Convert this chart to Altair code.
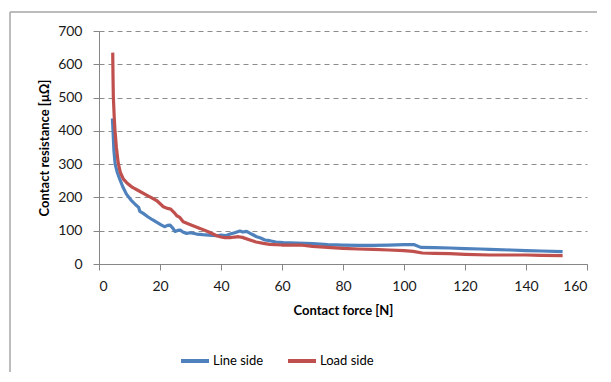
import altair as alt
import pandas as pd

# Line side (blue)
line_force = [4.4, 4.6, 4.9, 5.3, 6.0, 6.8, 7.8, 9.0, 10.5, 12.0, 13.0, 13.4, 14.5, 16.0,
              17.5, 19.0, 20.5, 21.5, 22.5, 23.3, 24.2, 24.9, 25.8, 26.6, 27.5, 28.7, 30,
              32, 34, 36, 38.6, 40, 41.5, 43, 44.5, 46.2, 47.2, 48.4, 50, 51.7, 53, 54.4,
              56, 58, 60.4, 65, 70, 75, 80, 85, 90, 95, 100, 103.4, 105.5, 110, 115, 120,
              125, 128, 135, 140, 145, 152]
line_res = [437, 400, 340, 300, 275, 255, 232, 210, 192, 178, 170, 158, 152, 142,
            133, 125, 117, 112, 116, 117, 108, 98, 101, 102, 96, 92, 94,
            90, 88, 87, 85, 87, 85, 90, 94, 99, 96, 98, 90, 82, 78, 72,
            70, 66, 64, 63, 61, 58, 57, 56, 56, 57, 58, 58, 50, 49, 48, 46,
            45, 44, 42, 40, 39, 37]

# Load side (red)
load_force = [4.5, 4.6, 4.7, 5.0, 5.2, 5.7, 6.3, 7.0, 8.0, 9.0, 9.6, 11, 13, 15.6, 17,
              19, 21.1, 22.5, 23.5, 24.9, 25.5, 26.5, 27.6, 30, 33.1, 36, 38.6, 40,
              41.3, 43, 44.5, 45.7, 47, 49.5, 51.5, 53.9, 56, 60, 66, 70, 75, 80, 85,
              90, 95, 100, 103, 106, 110, 115, 120, 128, 135, 140, 145, 152]
load_res = [635, 560, 503, 440, 406, 350, 303, 275, 255, 245, 240, 230, 220, 207, 200,
            190, 172, 167, 165, 152, 145, 140, 127, 118, 107, 96, 85, 81,
            79, 79, 81, 82, 80, 72, 66, 62, 59, 57, 57, 53, 50, 47, 45,
            44, 42, 40, 38, 33, 32, 31, 29, 27, 27, 27, 26, 25]

series_names = ["Line side", "Load side"]
series_colors = ["#4F81BD", "#C0504D"]

rows = []
for i, (f, r) in enumerate(zip(line_force, line_res)):
    rows.append({"force": f, "res": r, "series": series_names[0], "order": i})
for i, (f, r) in enumerate(zip(load_force, load_res)):
    rows.append({"force": f, "res": r, "series": series_names[1], "order": i})
df = pd.DataFrame(rows)

FONT = "Lato"

lines = alt.Chart(df).mark_line(strokeWidth=3.2, strokeJoin="round").encode(
    x=alt.X("force:Q",
            scale=alt.Scale(domain=[0, 160], nice=False),
            axis=alt.Axis(title="Contact force [N]", values=list(range(0, 161, 20)),
                          grid=False, tickSize=6, labelPadding=9, titlePadding=11,
                          domainColor="#868686", tickColor="#868686",
                          labelFont=FONT, labelFontSize=14, labelColor="#1a1a1a",
                          titleFont=FONT, titleFontSize=13, titleFontWeight="bold",
                          titleColor="#000000")),
    y=alt.Y("res:Q",
            scale=alt.Scale(domain=[0, 700], nice=False),
            axis=alt.Axis(title="Contact resistance [\u03bc\u03a9]",
                          values=list(range(0, 701, 100)),
                          grid=True, gridDash=[5, 4], gridColor="#8c8c8c", gridWidth=1,
                          tickSize=6, labelPadding=11, titlePadding=6,
                          domainColor="#868686", tickColor="#868686",
                          labelFont=FONT, labelFontSize=14, labelColor="#1a1a1a",
                          titleFont=FONT, titleFontSize=13, titleFontWeight="bold",
                          titleColor="#000000")),
    color=alt.Color("series:N",
                    scale=alt.Scale(domain=series_names, range=series_colors),
                    legend=alt.Legend(title=None, orient="none", legendX=80, legendY=314,
                                      direction="horizontal", symbolType="stroke",
                                      symbolSize=784, symbolStrokeWidth=4,
                                      labelFont=FONT, labelFontSize=13, labelColor="#000000",
                                      labelOffset=2, columnPadding=16)),
    order="order:Q",
)

frame_v = alt.Chart(pd.DataFrame({"d": [0]})).mark_rule(color="#a6a6a6", strokeWidth=1.5).encode(
    x=alt.value(-89), y=alt.value(-19), y2=alt.value(400))
frame_h = alt.Chart(pd.DataFrame({"d": [0]})).mark_rule(color="#a6a6a6", strokeWidth=1.5).encode(
    x=alt.value(-89), x2=alt.value(600), y=alt.value(-19))

chart = alt.layer(frame_v, frame_h, lines).properties(
    width=488, height=233,
    autosize=alt.AutoSizeParams(type="none"),
    padding={"left": 91, "top": 23, "right": 10, "bottom": 108},
).configure_view(stroke=None)

chart.save("out.html", embed_options={"renderer": "svg", "actions": False})
